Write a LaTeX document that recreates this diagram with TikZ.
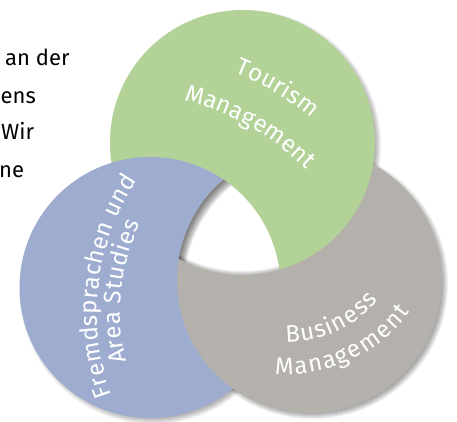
\documentclass[tikz,border=0pt]{standalone}
\usepackage{fontspec}
\setmainfont{Fira Sans}
\usetikzlibrary{decorations.text}
\definecolor{cgreen}{RGB}{178,210,152}
\definecolor{cblue}{RGB}{158,173,207}
\definecolor{cgray}{RGB}{180,177,172}
\newcommand\circfont{\fontsize{24}{29}\selectfont}
\begin{document}
\begin{tikzpicture}[x=1pt,y=1pt,
  lefttext/.style={anchor=base west, inner sep=0pt, font=\fontsize{22}{26}\selectfont},
  arctext/.style={decorate, decoration={text along path, text align={fit to path}, text color=white, text={|\circfont|#1}}}]
\useasboundingbox (0,0) rectangle (457,421);
\clip (0,0) rectangle (457,421);
\def\rg{132.5}\def\rb{130.5}\def\rr{132.5}
\coordinate (G) at (242.5,278.5);
\coordinate (B) at (150,133.5);
\coordinate (R) at (309.5,140.5);
\coordinate (GT) at (124,71.5);
\coordinate (BT) at (335,108);
\coordinate (RT) at (286.5,199.5);
% left text
\node[lefttext] (t1) at (5,355) {an der};
\node[lefttext] (t2) at (0.5,317) {ens};
\node[lefttext] (t3) at (1,281) {Wir};
\node[lefttext] (t4) at (-1,244) {ne};
% drop shadows
\foreach \k in {0,...,6}{
  \fill[black,opacity=0.055] ([xshift=3pt,yshift=-3pt]G) circle[radius=\rg+3-\k];
  \fill[black,opacity=0.05] ([xshift=3pt,yshift=-3pt]B) circle[radius=\rb+3-\k];
  \fill[black,opacity=0.06] ([xshift=3pt,yshift=-3pt]R) circle[radius=\rr+3-\k];
}
\fill[cgreen] (G) circle[radius=\rg];
\fill[cblue] (B) circle[radius=\rb];
\fill[cgray] (R) circle[radius=\rr];
\begin{scope}
  \clip (R) circle[radius=\rr];
  \fill[cgreen] (G) circle[radius=\rg];
\end{scope}
\begin{scope}
  \clip (R) circle[radius=\rr];
  \clip (G) circle[radius=\rg];
  \clip (B) circle[radius=\rb];
  \fill[white] (0,0) rectangle (457,421);
  \foreach \k in {1,...,7}{
    \fill[black,opacity=0.09,even odd rule] (-20,-20) rectangle (480,440) ([xshift=\k pt,yshift=-\k pt]R) circle[radius=\rr];
    \fill[black,opacity=0.04,even odd rule] (-20,-20) rectangle (480,440) ([yshift=0.6*\k pt]G) circle[radius=\rg];
  }
\end{scope}
\path[arctext=Tourism] ([shift={(68.2:298)}]GT) arc[start angle=68.2, end angle=51.0, radius=298];
\path[arctext=Management] ([shift={(76.5:256)}]GT) arc[start angle=76.5, end angle=44.5, radius=256];
\path[arctext=Fremdsprachen und] ([shift={(200.3:238)}]BT) arc[start angle=200.3, end angle=146.2, radius=238];
\path[arctext=Area Studies] ([shift={(193.2:214.5)}]BT) arc[start angle=193.2, end angle=155.3, radius=214.5];
\path[arctext=Business] ([shift={(269.7:121)}]RT) arc[start angle=269.7, end angle=319.2, radius=121];
\path[arctext=Management] ([shift={(265.6:153)}]RT) arc[start angle=265.6, end angle=323.7, radius=153];
\end{tikzpicture}
\end{document}
